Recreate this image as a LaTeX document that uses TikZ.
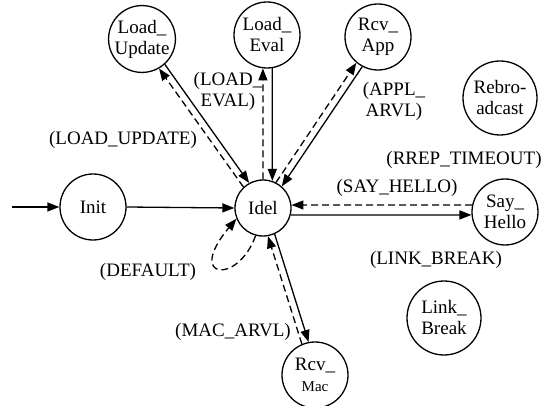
\documentclass[tikz,border=0pt]{standalone}
\usepackage{fontspec}
\setmainfont{Liberation Serif}
\usepackage{tikz}
\usetikzlibrary{arrows.meta,positioning}
\tikzset{
  state/.style={
    circle,
    draw=black,
    line width=1.3pt,
    minimum size=66pt,
    inner sep=0pt,
    align=center,
    font=\fontsize{19}{21}\selectfont
  },
  statebig/.style={
    state,
    minimum size=74pt
  },
  tlabel/.style={
    inner sep=0pt,
    align=center,
    font=\fontsize{19}{21}\selectfont
  },
  goarrow/.style={
    -{Triangle[length=12pt,width=9pt]},
    line width=1.3pt
  },
  backarrow/.style={
    goarrow,
    dash pattern=on 7pt off 4pt
  }
}

\begin{document}
\begin{tikzpicture}[x=1pt,y=-1pt]
    \useasboundingbox (0,0) rectangle (549,406);
    \node[state] (init) at (93,207) {Init};
    \node[state, minimum size=56pt] (idel) at (263,208) {Idel};
    \node[state] (ldupd) at (142,39) {Load\_\\Update};
    \node[state] (ldeval) at (267,35) {Load\_\\Eval};
    \node[state] (rcvapp) at (378,37) {Rcv\_\\App};
    \node[statebig] (rebro) at (500,98) {Rebro-\\adcast};
    \node[state] (sayh) at (505,212) {Say\_\\Hello};
    \node[statebig] (lnkbrk) at (444,318) {Link\_\\Break};
    \node[state] (rcvmac) at (315,375) {Rcv\_\\{\fontsize{15}{17}\selectfont Mac}};
    \coordinate (entry) at (12,207);
    % transitions
    \draw[goarrow] (entry) -- (init.west);
    \draw[goarrow] (init.east) -- (idel.west);
    \foreach \a/\b in {ldupd.-48/idel.119,ldeval.-81.3/idel.71.3,rcvapp.-118/idel.49,idel.-14/sayh.185,idel.-66/rcvmac.101}
      \draw[goarrow] (\a) -- (\b);
    % returns
    \foreach \a/\b in {idel.133/ldupd.-60,idel.90/ldeval.-97,idel.63/rcvapp.-130,sayh.168/idel.6,rcvmac.113/idel.-80}
      \draw[backarrow] (\a) -- (\b);
    \draw[backarrow] (idel.-105) .. controls (238,285) and (185,280) .. (idel.-158);
    % labels
    \node[tlabel] (lupd) at (123,140) {(LOAD\_UPDATE)};
    \node[tlabel] (leval) at (228,91) {(LOAD\_\\EVAL)};
    \node[tlabel] (lappl) at (394,101) {(APPL\_\\ARVL)};
    \node[tlabel] (lrrep) at (464,160) {(RREP\_TIMEOUT)};
    \node[tlabel] (lsay) at (397,188) {(SAY\_HELLO)};
    \node[tlabel] (llink) at (436,260) {(LINK\_BREAK)};
    \node[tlabel] (ldef) at (148,272) {(DEFAULT)};
    \node[tlabel] (lmac) at (233,332) {(MAC\_ARVL)};
  \end{tikzpicture}
\end{document}
